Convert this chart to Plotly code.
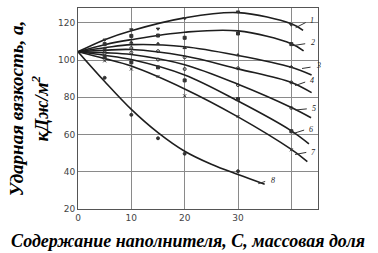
import plotly.graph_objects as go

# ---- data ----
series_names = ["1", "2", "3", "4", "5", "6", "7", "8"]

# smooth curves (x, y)
curve_x = {
    "1": [0, 5, 10, 20, 30, 40, 42.2],
    "2": [0, 5, 10, 20, 30, 40, 42.3],
    "3": [0, 5, 10, 20, 30, 40, 43.8],
    "4": [0, 5, 10, 20, 30, 40, 43.8],
    "5": [0, 5, 10, 20, 30, 40, 43.7],
    "6": [0, 5, 10, 20, 30, 40, 43.3],
    "7": [0, 5, 10, 20, 30, 40, 43.0],
    "8": [0, 5, 10, 15, 20, 25, 30, 35],
}
curve_y = {
    "1": [104.5, 111.0, 115.8, 122.7, 125.5, 119.5, 116.0],
    "2": [104.5, 108.3, 111.0, 115.0, 115.7, 108.8, 105.0],
    "3": [104.5, 106.6, 108.3, 107.2, 102.5, 96.2, 92.0],
    "4": [104.5, 105.3, 105.7, 102.2, 95.3, 88.0, 82.5],
    "5": [104.5, 104.0, 103.0, 97.5, 87.0, 74.5, 69.0],
    "6": [104.5, 102.6, 100.3, 92.0, 78.0, 62.0, 55.0],
    "7": [104.5, 100.8, 96.8, 84.5, 69.5, 52.0, 45.5],
    "8": [104.5, 88.5, 73.5, 61.0, 51.0, 44.0, 38.5, 33.3],
}

# experimental points
pts_x = {
    "1": [5, 10, 15, 20, 30, 40],
    "2": [5, 10, 15, 20, 30, 40],
    "3": [5, 10, 15, 20, 30, 40],
    "4": [5, 10, 15, 20, 30, 40],
    "5": [5, 10, 15, 20, 30, 40],
    "6": [5, 10, 15, 20, 30, 40],
    "7": [5, 10, 15, 20, 30, 40],
    "8": [5, 10, 15, 20, 30],
}
pts_y = {
    "1": [110.9, 116.4, 116.8, 122.4, 126.0, 119.0],
    "2": [108.6, 113.0, 113.2, 112.0, 114.3, 108.6],
    "3": [106.3, 109.5, 108.8, 106.6, 102.7, 96.4],
    "4": [105.0, 106.5, 104.8, 101.5, 95.6, 88.0],
    "5": [103.6, 104.0, 100.3, 95.2, 86.6, 74.3],
    "6": [101.8, 98.8, 96.1, 89.1, 79.1, 61.8],
    "7": [99.6, 95.2, 91.2, 80.8, 69.7, 51.8],
    "8": [90.5, 70.6, 58.0, 49.7, 40.3],
}

# curve labels: leader start, leader end, label position
label_lead_x0 = [40.8, 40.3, 42.0, 40.7, 40.8, 40.4, 40.7, 33.8]
label_lead_y0 = [117.4, 107.8, 95.5, 86.3, 73.2, 60.6, 49.3, 33.6]
label_lead_x1 = [42.7, 42.6, 43.6, 42.6, 42.9, 42.4, 42.8, 35.1]
label_lead_y1 = [120.2, 108.8, 96.2, 88.2, 73.8, 62.4, 50.4, 34.8]
label_x = [43.2, 43.3, 44.2, 43.1, 43.5, 43.0, 43.4, 35.8]
label_y = [121.4, 109.6, 97.0, 88.8, 74.0, 62.6, 50.6, 35.4]

x_tickvals = [0, 10, 20, 30]
x_ticktext = ["0", "10", "20", "30"]
x_extra_grid = [40]
y_tickvals = [20, 40, 60, 80, 100, 120]
y_ticktext = ["20", "40", "60", "80", "100", "120"]

x_title = "Содержание наполнителя, С, массовая доля"
y_title = "Ударная вязкость, а,<br>кДж/м<sup>2</sup>"

symbols = ["triangle-down", "square", "triangle-up", "circle-open", "circle-open",
           "square", "x-thin-open", "circle"]

fig = go.Figure()
for s in series_names:
    fig.add_trace(go.Scatter(
        x=curve_x[s], y=curve_y[s], mode="lines",
        line=dict(color="#1e1e1e", width=1.6, shape="spline", smoothing=1.0),
        showlegend=False, hoverinfo="skip"))
for i, s in enumerate(series_names):
    fig.add_trace(go.Scatter(
        x=pts_x[s], y=pts_y[s], mode="markers",
        marker=dict(symbol=symbols[i], size=3, color="#333",
                    line=dict(color="#333", width=1)),
        showlegend=False))
for i, s in enumerate(series_names):
    fig.add_trace(go.Scatter(
        x=[label_lead_x0[i], label_lead_x1[i]], y=[label_lead_y0[i], label_lead_y1[i]],
        mode="lines", line=dict(color="#333", width=1), showlegend=False))
    fig.add_annotation(x=label_x[i], y=label_y[i], text="<i>" + s + "</i>",
                       showarrow=False, xanchor="left", yanchor="middle",
                       font=dict(family="Liberation Serif", size=8, color="#222"))

fig.add_annotation(xref="paper", yref="paper", x=-0.205, y=0.50,
                   text="<b><i>" + y_title + "</i></b>", textangle=-90,
                   showarrow=False, xanchor="center", yanchor="middle",
                   font=dict(family="Liberation Serif", size=19, color="#000"))
fig.add_annotation(xref="paper", yref="paper", x=0.46, y=-0.16,
                   text="<b><i>" + x_title + "</i></b>",
                   showarrow=False, xanchor="center", yanchor="middle",
                   font=dict(family="Liberation Serif", size=18, color="#000"))

axis_common = dict(showgrid=True, gridcolor="#8a8a8a", gridwidth=1,
                   showline=True, linecolor="#555", linewidth=1, mirror=True,
                   zeroline=False, ticks="",
                   tickfont=dict(family="DejaVu Sans", size=9, color="#444"))
fig.update_xaxes(range=[0, 45], tickvals=x_tickvals, ticktext=x_ticktext,
                 minor=dict(tickvals=x_extra_grid, showgrid=True,
                            gridcolor="#8a8a8a", gridwidth=1),
                 **axis_common)
fig.update_yaxes(range=[20, 128], tickvals=y_tickvals, ticktext=y_ticktext, **axis_common)

fig.update_layout(width=378, height=253,
                  margin=dict(l=78, r=60, t=8, b=44),
                  paper_bgcolor="white", plot_bgcolor="white", showlegend=False)

fig.write_html("out.html")
